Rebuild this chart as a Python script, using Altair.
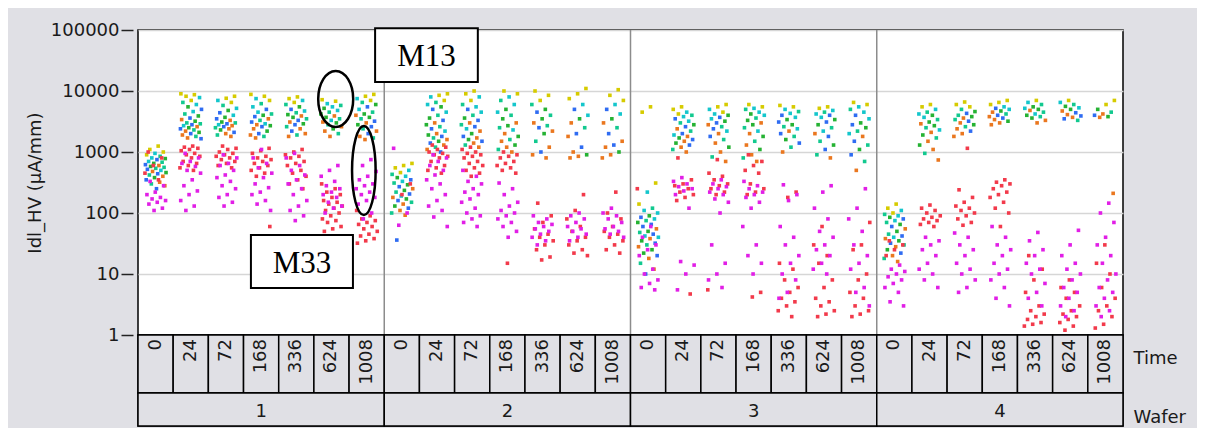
import altair as alt
import pandas as pd

# ---------------- data ----------------
WAFERS = ["1", "2", "3", "4"]
TIMES = ["0", "24", "72", "168", "336", "624", "1008"]

HI_SERIES = ["Yellow", "Cyan", "Teal", "Green", "Blue", "Orange"]
LOW_SERIES = ["Red", "Magenta"]
SERIES = HI_SERIES + LOW_SERIES
SERIES_COLORS = ["#d6cb00", "#14c6cc", "#12c98f", "#25b233", "#2f6cf2", "#ea771f", "#f23a4b", "#e11fe6"]
# order in which the upper-group series appear from the top of a cluster to its bottom
HI_PATTERN = ["Yellow", "Yellow", "Cyan", "Yellow", "Teal", "Cyan", "Green", "Blue", "Cyan", "Teal",
              "Green", "Blue", "Orange", "Green", "Teal", "Blue", "Cyan", "Orange", "Green", "Blue",
              "Teal", "Orange", "Green", "Blue", "Orange", "Teal", "Orange", "Blue"]

HI = {
    "1": [
        [1250, 1100, 1000, 950, 900, 850, 800, 780, 750, 700, 680, 650, 620, 600, 580, 560, 540, 520, 500, 480, 460, 440, 420, 400, 380, 350, 320, 300, 280, 250],
        [9000, 8700, 8200, 7800, 7000, 6500, 6000, 5500, 5000, 4600, 4200, 3900, 3600, 3400, 3200, 3000, 2900, 2800, 2700, 2600, 2500, 2400, 2300, 2200, 2100, 2000, 1900, 1800, 1700, 1650],
        [8200, 7600, 7000, 6500, 5800, 5200, 4800, 4400, 4000, 3700, 3500, 3300, 3100, 3000, 2900, 2800, 2700, 2600, 2500, 2400, 2300, 2100, 2000, 1900, 1800],
        [8800, 8200, 7500, 7000, 6200, 5500, 5000, 4500, 4200, 4000, 3800, 3500, 3300, 3100, 2900, 2800, 2700, 2600, 2400, 2200, 2000, 1900, 1800, 1700],
        [8000, 7500, 7000, 6500, 6000, 5500, 5000, 4700, 4400, 4100, 3900, 3700, 3500, 3300, 3100, 2900, 2800, 2600, 2400, 2200, 2000, 1900, 1800],
        [7200, 6800, 6200, 5800, 5500, 5200, 4800, 4500, 4200, 3900, 3700, 3500, 3300, 3100, 3000, 2800, 2600, 2400, 2200, 2000, 1800],
        [8800, 8200, 7500, 7000, 6500, 6000, 5500, 5000, 4500, 4200, 4000, 3700, 3500, 3200, 3000, 2800, 2600, 2400, 2200, 2000, 1800, 1700, 1600],
    ],
    "2": [
        [650, 600, 550, 500, 460, 430, 400, 380, 350, 330, 310, 290, 270, 250, 235, 220, 205, 190, 180, 170, 160, 150, 140, 130, 120, 110, 100, 92, 36],
        [9000, 8500, 8000, 7000, 6500, 6000, 5500, 5000, 4500, 4000, 3600, 3300, 3000, 2800, 2600, 2400, 2200, 2000, 1900, 1800, 1700, 1600, 1500, 1400, 1300, 1200, 1100, 1000],
        [10000, 9000, 8000, 7000, 6000, 5500, 5000, 4500, 4000, 3600, 3300, 3000, 2800, 2600, 2400, 2200, 2000, 1800, 1700, 1600, 1500, 1400, 1300, 1200],
        [10000, 9000, 8000, 7000, 6000, 5000, 4500, 4000, 3500, 3000, 2700, 2500, 2300, 2000, 1800, 1600, 1500, 1300, 1200, 1100, 1000],
        [10000, 8500, 7000, 6000, 5000, 4500, 4000, 3500, 3000, 2700, 2500, 2200, 2000, 1500, 1200, 1000, 900, 800],
        [11000, 9000, 7500, 6000, 5000, 4000, 3500, 3000, 2500, 2000, 1800, 1200, 1000, 900, 850, 800],
        [10500, 8500, 7000, 6000, 5000, 4200, 3500, 3000, 2500, 2000, 1500, 1300, 1200, 1000, 900, 800],
    ],
    "3": [
        [5500, 4500, 310, 220, 140, 120, 110, 100, 90, 85, 80, 75, 70, 65, 60, 55, 50, 48, 45, 42, 40, 38, 35, 32, 30, 28, 25, 22, 20, 18, 15, 12, 10],
        [5500, 5000, 4500, 4200, 4000, 3800, 3500, 3200, 3000, 2800, 2600, 2400, 2200, 2000, 1900, 1800, 1700, 1600, 1500, 1400, 1300, 1200, 1100, 1000],
        [6000, 5500, 5000, 4500, 4200, 4000, 3700, 3500, 3200, 3000, 2800, 2600, 2400, 2200, 2000, 1800, 1600, 1400, 1200, 1000, 830, 700],
        [6000, 5500, 5200, 5000, 4500, 4200, 4000, 3600, 3300, 3000, 2800, 2500, 2200, 2000, 1800, 1500, 1300, 1100, 900, 800, 700],
        [5800, 5500, 5000, 4600, 4300, 4000, 3700, 3400, 3100, 2800, 2600, 2400, 2200, 2000, 1800, 1600, 1400, 1200, 1000],
        [5500, 5200, 4800, 4500, 4200, 4000, 3700, 3400, 3100, 2800, 2500, 2200, 2000, 1800, 1500, 1300, 1100, 900, 800],
        [6500, 6000, 5500, 5000, 4500, 4000, 3500, 3000, 2800, 2500, 2200, 2000, 1800, 1500, 1300, 1100, 900, 700, 500],
    ],
    "4": [
        [140, 120, 110, 100, 95, 90, 85, 80, 75, 70, 65, 60, 55, 50, 45, 42, 40, 38, 35, 32, 30, 28, 25, 22, 20, 18, 16],
        [6000, 5500, 5000, 4500, 4200, 4000, 3700, 3400, 3100, 2900, 2700, 2500, 2300, 2100, 1900, 1700, 1500, 1300, 1100, 950, 740],
        [6600, 6000, 5500, 5000, 4600, 4300, 4000, 3800, 3600, 3400, 3200, 3000, 2800, 2600, 2400, 2200, 2000, 1800],
        [7000, 6500, 6000, 5500, 5200, 5000, 4700, 4500, 4200, 4000, 3800, 3600, 3400, 3200, 3000, 2800],
        [7000, 6500, 6000, 5500, 5200, 5000, 4800, 4500, 4200, 4000, 3800, 3600, 3300, 3000],
        [7000, 6500, 6000, 5600, 5300, 5000, 4700, 4400, 4100, 3900, 3700, 3500, 3300],
        [7000, 6000, 5000, 4500, 4200, 4000, 3800, 3700, 210],
    ],
}

RED = {
    "1": [
        [1000, 800, 600, 450, 350],
        [1250, 1200, 1150, 1100, 1050, 950, 900, 850, 800, 700, 650, 600, 550, 500],
        [1250, 1150, 1100, 1000, 950, 900, 850, 800, 750, 700, 650, 600, 550],
        [1150, 1050, 950, 850, 800, 750, 700, 650, 600, 550, 500, 450, 400, 60],
        [1100, 1000, 900, 850, 800, 700, 650, 600, 500, 450, 400, 350, 300, 250],
        [300, 250, 220, 200, 180, 160, 150, 140, 130, 120, 110, 100, 90, 80, 75, 70, 60, 55, 50],
        [110, 90, 80, 75, 70, 65, 60, 55, 50, 45, 42, 38, 35, 32],
    ],
    "2": [
        [300, 200],
        [1300, 1200, 1100, 1000, 950, 900, 850, 800, 700, 600, 550, 500, 450],
        [1200, 1100, 1000, 950, 900, 850, 800, 700, 650, 600, 550, 500, 450, 400],
        [1000, 900, 850, 800, 700, 650, 600, 550, 500, 450, 15],
        [145, 90, 70, 55, 45, 40, 35, 30, 25, 19, 17],
        [200, 110, 80, 60, 50, 40, 35, 30, 25, 22, 20],
        [220, 100, 80, 60, 50, 45, 40, 35, 30, 25, 22],
    ],
    "3": [
        [250],
        [800, 350, 300, 280, 250, 220, 200, 180, 160, 4.7],
        [750, 450, 400, 350, 300, 280, 250, 220, 200, 5.5],
        [900, 700, 600, 500, 450, 300, 250, 220, 200, 5, 4.2],
        [220, 180, 15, 12, 8, 6, 5, 4, 3.5, 3, 2.5, 2],
        [60, 30, 20, 15, 8, 6, 4, 3.5, 3, 2.5, 2.2, 2],
        [70, 30, 25, 10, 8, 5, 4, 3, 2.5, 2.2, 2],
    ],
    "4": [
        [35, 30, 25, 20],
        [135, 120, 110, 100, 90, 85, 80, 75, 70, 65, 60],
        [1150, 240, 180, 150, 130, 120, 110, 100, 90, 80, 70, 63],
        [350, 320, 300, 280, 250, 220, 200, 180, 150, 120, 100, 60],
        [20, 12, 8, 5, 3, 2.5, 2.2, 2, 1.8, 1.6, 1.5, 1.4],
        [8, 6, 5, 4, 3, 2.5, 2.2, 2, 1.8, 1.6, 1.4, 1.2],
        [30, 15, 10, 6, 4, 3, 2.5, 2, 1.5, 1.3],
    ],
}

MAG = {
    "1": [
        [330, 280, 220, 200, 180, 170, 160, 150, 140, 120, 110],
        [950, 800, 700, 650, 580, 500, 450, 350, 280, 230, 200, 160, 130, 110],
        [900, 800, 650, 600, 500, 420, 380, 330, 280, 250, 200, 180, 150, 130],
        [1100, 800, 650, 550, 450, 380, 300, 260, 220, 200, 160, 140, 110],
        [950, 800, 600, 500, 420, 350, 300, 250, 200, 160, 130, 110, 90, 75],
        [600, 500, 400, 330, 280, 250, 220, 200, 180, 150, 130, 120, 100],
        [750, 600, 480, 400, 350, 300, 280, 250, 220, 200, 180, 160, 140, 100, 80],
    ],
    "2": [
        [1150, 100, 63],
        [900, 800, 700, 600, 500, 420, 350, 300, 250, 200, 160, 130, 110, 86, 60],
        [500, 400, 330, 300, 250, 220, 200, 170, 150, 120, 100, 90, 80, 70, 60],
        [310, 250, 200, 150, 130, 110, 100, 90, 80, 70, 60, 50, 40],
        [90, 80, 70, 65, 60, 55, 50, 45, 40, 35, 30],
        [100, 90, 80, 70, 60, 55, 50, 45, 40, 35],
        [120, 100, 90, 80, 70, 60, 55, 50, 45, 40],
    ],
    "3": [
        [60, 40, 30, 25, 20, 12, 10, 8, 7, 6, 5.5],
        [380, 330, 300, 270, 250, 230, 200, 120, 16, 14, 10, 5.5],
        [350, 300, 270, 250, 220, 200, 170, 150, 100, 30, 15, 10, 8, 6],
        [330, 280, 250, 220, 200, 180, 150, 120, 60, 30, 20, 15, 10],
        [290, 200, 160, 60, 40, 30, 20, 15, 10, 8, 5, 4],
        [280, 220, 120, 80, 50, 40, 30, 25, 20, 15, 12, 10],
        [250, 120, 80, 50, 30, 20, 15, 12, 6, 5, 3],
    ],
    "4": [
        [14, 12, 11, 10, 9, 8, 7, 6, 5, 3.5, 3],
        [40, 35, 30, 25, 20, 15, 12, 10, 8, 6],
        [47, 40, 30, 25, 20, 15, 12, 10, 8, 6, 5],
        [60, 40, 30, 25, 20, 15, 12, 10, 8, 6, 4, 3],
        [48, 35, 25, 20, 15, 12, 10, 7, 5, 4, 3],
        [52, 30, 20, 15, 12, 10, 8, 6, 5, 4, 3, 2.5, 2],
        [145, 100, 70, 40, 30, 20, 15, 10, 8, 6, 5, 4, 3, 2.5, 2],
    ],
}

# annotation boxes (data units: x in cell units, y in µA/mm)
ANNOT_LABELS = ["M13", "M33"]
ANNOT_X0 = [6.74, 3.21]
ANNOT_X1 = [9.66, 6.11]
ANNOT_Y0 = [14050, 5.89]
ANNOT_Y1 = [107000, 43.6]
# ellipses: centre (cell units, µA/mm), half-axes in pixels
ELL_X = [5.62, 6.42]
ELL_Y = [7400, 497]
ELL_RX = [17.5, 11.8]
ELL_RY = [28, 44.5]

# ---------------- tables ----------------
rows = []
nT = len(TIMES)
for wi, w in enumerate(WAFERS):
    for ti, t in enumerate(TIMES):
        cell = wi * nT + ti
        hi = HI[w][ti]
        n = len(hi)
        for i, v in enumerate(hi):
            s = HI_PATTERN[int(i * len(HI_PATTERN) / n)]
            rows.append({"cell": cell, "wafer": w, "time": t, "value": v, "series": s})
        for v in RED[w][ti]:
            rows.append({"cell": cell, "wafer": w, "time": t, "value": v, "series": "Red"})
        for v in MAG[w][ti]:
            rows.append({"cell": cell, "wafer": w, "time": t, "value": v, "series": "Magenta"})
df = pd.DataFrame(rows)

ncell = len(WAFERS) * nT
cells = pd.DataFrame({
    "x0": [i for i in range(ncell)],
    "x1": [i + 1 for i in range(ncell)],
    "xc": [i + 0.5 for i in range(ncell)],
    "time": [TIMES[i % nT] for i in range(ncell)],
    "row": ["Time"] * ncell,
})
wafers = pd.DataFrame({
    "x0": [i * nT for i in range(len(WAFERS))],
    "x1": [(i + 1) * nT for i in range(len(WAFERS))],
    "xc": [i * nT + nT / 2 for i in range(len(WAFERS))],
    "wafer": WAFERS,
    "row": ["Wafer"] * len(WAFERS),
})
seps = pd.DataFrame({"x": [i * nT for i in range(1, len(WAFERS))]})
boxes = pd.DataFrame({
    "label": ANNOT_LABELS, "x0": ANNOT_X0, "x1": ANNOT_X1, "y0": ANNOT_Y0, "y1": ANNOT_Y1,
    "xc": [(a + b) / 2 for a, b in zip(ANNOT_X0, ANNOT_X1)],
    "yc": [(a * b) ** 0.5 for a, b in zip(ANNOT_Y0, ANNOT_Y1)],
})

FONT = "DejaVu Sans"
BG = "#e0e0e5"
W = 985
xs = alt.Scale(domain=[0, ncell], nice=False, zero=False)
ys = alt.Scale(type="log", domain=[1, 100000], nice=False)

def ellipse_path(ratio):
    k = 0.5523
    a = ratio
    return (f"M {a} 0 C {a} {k} {a*k} 1 0 1 C {-a*k} 1 {-a} {k} {-a} 0 "
            f"C {-a} {-k} {-a*k} -1 0 -1 C {a*k} -1 {a} {-k} {a} 0 Z")

# deterministic horizontal jitter within each time cell (styling only)
points = alt.Chart(df).transform_window(
    rn="row_number()"
).transform_calculate(
    xj="datum.cell + 0.5 + ((datum.rn * 0.6180339887) % 1 - 0.5) * 0.62"
).mark_square(size=13, opacity=1).encode(
    x=alt.X("xj:Q", scale=xs, axis=None),
    y=alt.Y("value:Q", scale=ys,
            axis=alt.Axis(values=[1, 10, 100, 1000, 10000, 100000], format="d",
                          title="Idl_HV (µA/mm)", grid=True, gridColor="#d6d6d6", gridWidth=1.5,
                          domain=False, tickSize=12, tickColor="#222", tickWidth=1.5, offset=5,
                          labelPadding=2, labelFont=FONT, labelFontSize=18, labelColor="#1a1a1a",
                          titleFont=FONT, titleFontSize=18, titleFontWeight="normal",
                          titleColor="#1a1a1a", titlePadding=6)),
    color=alt.Color("series:N", scale=alt.Scale(domain=SERIES, range=SERIES_COLORS), legend=None),
)

rules = alt.Chart(seps).mark_rule(color="#8c8c8c", strokeWidth=1.5).encode(x=alt.X("x:Q", scale=xs))

box_rects = alt.Chart(boxes).mark_rect(fill="white", stroke="black", strokeWidth=2).encode(
    x=alt.X("x0:Q", scale=xs), x2="x1:Q", y=alt.Y("y0:Q", scale=ys), y2="y1:Q")
box_text = alt.Chart(boxes).mark_text(font="Liberation Serif", fontSize=31, color="black",
                                      baseline="middle", dy=2).encode(
    x=alt.X("xc:Q", scale=xs), y=alt.Y("yc:Q", scale=ys), text="label:N")

ell_layers = []
for i in range(len(ELL_X)):
    e = pd.DataFrame({"x": [ELL_X[i]], "y": [ELL_Y[i]]})
    ell_layers.append(
        alt.Chart(e).mark_point(shape=ellipse_path(ELL_RX[i] / ELL_RY[i]), size=(2 * ELL_RY[i]) ** 2,
                                filled=False, stroke="black", strokeWidth=2.5, opacity=1).encode(
            x=alt.X("x:Q", scale=xs), y=alt.Y("y:Q", scale=ys)))

top = alt.layer(points, rules, box_rects, box_text, *ell_layers).properties(
    width=W, height=305, view=alt.ViewBackground(fill="white", stroke="black", strokeWidth=1.5))

time_rect = alt.Chart(cells).mark_rect(fill=BG, stroke="black", strokeWidth=1.5).encode(
    x=alt.X("x0:Q", scale=xs, axis=None), x2="x1:Q",
    y=alt.Y("row:N", scale=alt.Scale(paddingInner=0, paddingOuter=0),
            axis=alt.Axis(orient="right", title=None, ticks=False, domain=False, labelPadding=10,
                          labelFont=FONT, labelFontSize=18, labelColor="#1a1a1a", labelOffset=-5)))
time_text = alt.Chart(cells).mark_text(font=FONT, fontSize=18, color="#1a1a1a", angle=270,
                                       align="right", baseline="middle").encode(
    x=alt.X("xc:Q", scale=xs), y=alt.value(4), text="time:N")
time_row = alt.layer(time_rect, time_text).properties(width=W, height=58)

waf_rect = alt.Chart(wafers).mark_rect(fill=BG, stroke="black", strokeWidth=1.5).encode(
    x=alt.X("x0:Q", scale=xs, axis=None), x2="x1:Q",
    y=alt.Y("row:N", scale=alt.Scale(paddingInner=0, paddingOuter=0),
            axis=alt.Axis(orient="right", title=None, ticks=False, domain=False, labelPadding=10,
                          labelFont=FONT, labelFontSize=18, labelColor="#1a1a1a", labelOffset=8)))
waf_text = alt.Chart(wafers).mark_text(font=FONT, fontSize=18, color="#1a1a1a",
                                       baseline="middle", dy=2).encode(
    x=alt.X("xc:Q", scale=xs), y=alt.Y("row:N"), text="wafer:N")
waf_row = alt.layer(waf_rect, waf_text).properties(width=W, height=33)

chart = alt.vconcat(top, time_row, waf_row, spacing=0, bounds="flush").resolve_scale(
    y="independent").properties(
    background=BG,
    padding={"left": 17, "top": 12, "right": 10, "bottom": 2},
).configure_view(stroke="black", strokeWidth=1.5)

chart.save("out.html", embed_options={"renderer": "svg", "actions": False})
